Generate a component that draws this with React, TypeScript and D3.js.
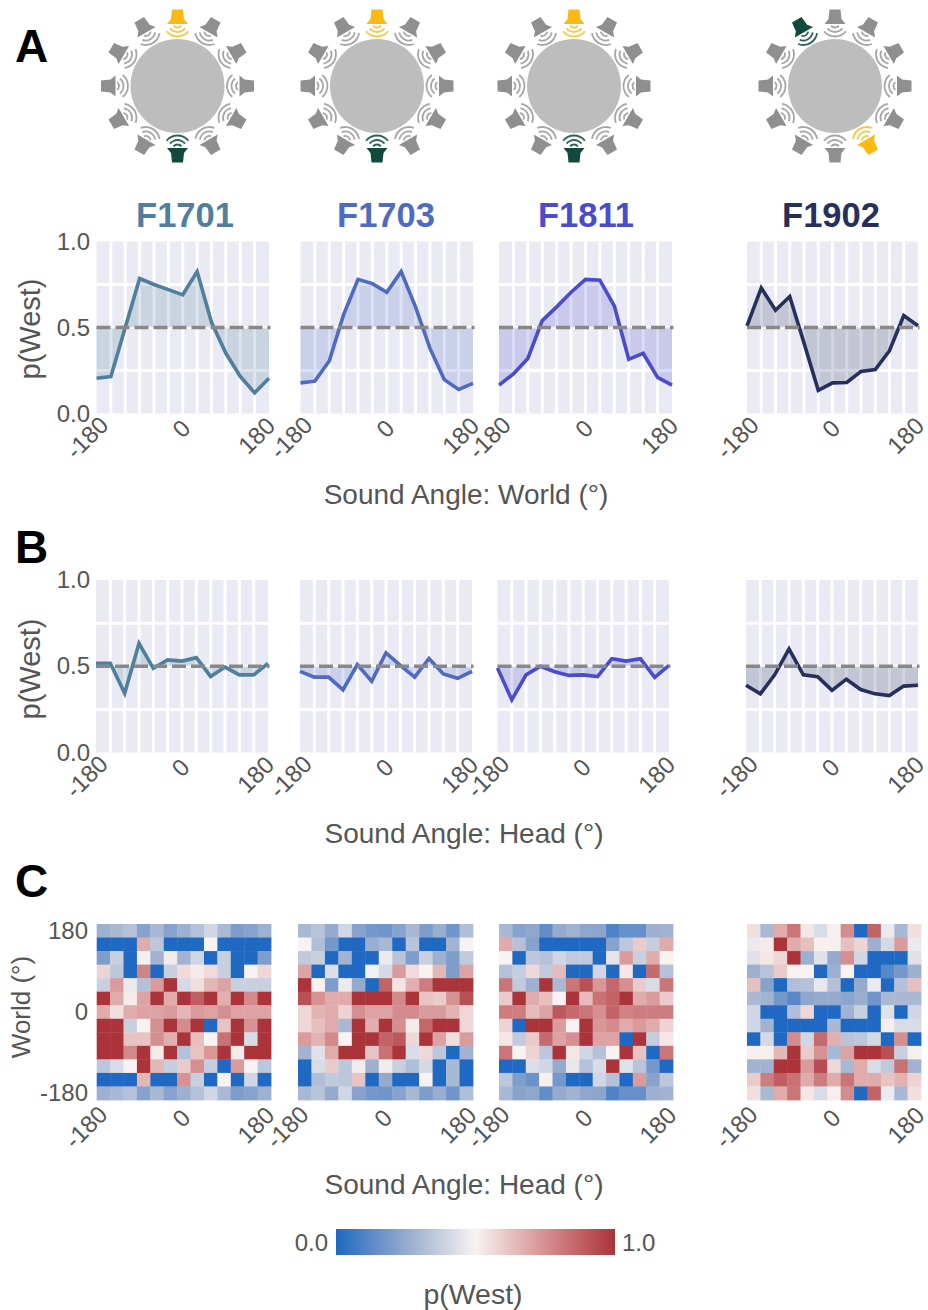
import React, { useEffect, useRef } from "react";
import * as d3 from "d3";

const FONT = "'Liberation Sans', Arial, sans-serif";
const TEXT = "#555555";

const subjects = ["F1701", "F1703", "F1811", "F1902"];
const subjectColors = ["#4f7f9c", "#4f6bc1", "#4a4ccb", "#27305c"];

// sound angle samples for the line panels
const angles = [-180, -150, -120, -90, -60, -30, 0, 30, 60, 90, 120, 150, 180];

// panel A, p(West) by world angle
const worldF1701 = [0.205, 0.215, 0.5, 0.785, 0.75, 0.72, 0.69, 0.825, 0.53, 0.35, 0.215, 0.12, 0.205];
const worldF1703 = [0.178, 0.188, 0.305, 0.575, 0.78, 0.755, 0.705, 0.825, 0.62, 0.38, 0.197, 0.14, 0.175];
const worldF1811 = [0.165, 0.23, 0.32, 0.54, 0.62, 0.705, 0.78, 0.775, 0.625, 0.315, 0.35, 0.21, 0.165];
const worldF1902 = [0.51, 0.73, 0.6, 0.68, 0.41, 0.135, 0.178, 0.18, 0.245, 0.255, 0.365, 0.57, 0.51];

// panel B, p(West) by head angle
const headF1701 = [0.517, 0.517, 0.343, 0.633, 0.488, 0.537, 0.53, 0.55, 0.44, 0.495, 0.45, 0.45, 0.517];
const headF1703 = [0.47, 0.437, 0.437, 0.363, 0.51, 0.413, 0.578, 0.505, 0.437, 0.545, 0.455, 0.43, 0.47];
const headF1811 = [0.49, 0.305, 0.45, 0.5, 0.468, 0.447, 0.45, 0.44, 0.544, 0.53, 0.544, 0.435, 0.505];
const headF1902 = [0.39, 0.34, 0.45, 0.6, 0.45, 0.44, 0.36, 0.425, 0.365, 0.34, 0.33, 0.385, 0.39];

// panel C, rows run from world 180 (top) to world -180 (bottom)
const gridF1701 = [
  [0.27, 0.3, 0.33, 0.22, 0.3, 0.22, 0.27, 0.33, 0.4, 0.3, 0.2, 0.22, 0.27],
  [0, 0, 0, 0.68, 0.35, 0, 0, 0, 0.5, 0, 0, 0, 0],
  [0.2, 0.38, 0, 0.49, 0.28, 0.52, 0.28, 0.4, 0, 0.38, 0, 0, 0.2],
  [0.58, 0.35, 0, 0.78, 0, 0.38, 0.56, 0.52, 0.56, 0.38, 0, 0.5, 0.57],
  [0.38, 0.72, 0.47, 0.33, 0.72, 1, 0.41, 0.55, 0.65, 0.7, 0.38, 0.38, 0.38],
  [1, 0.68, 0.52, 0.7, 1, 0.68, 1, 0.88, 1, 0.67, 1, 0.76, 1],
  [0.68, 0.55, 0.68, 0.7, 0.7, 0.72, 0.65, 0.72, 0.7, 0.75, 0.7, 0.7, 0.7],
  [1, 1, 0.38, 0.5, 0.75, 1, 0.76, 1, 0, 0.62, 1, 0.74, 1],
  [1, 1, 0.62, 0.62, 0.75, 0.67, 1, 0.63, 0.5, 0.83, 1, 0.42, 1],
  [1, 1, 0.77, 1, 0.52, 1, 0.33, 0.62, 0.73, 1, 0.52, 1, 1],
  [0.35, 0.42, 0.5, 1, 0.65, 0.37, 0.6, 0.75, 0.37, 0, 0.72, 0.5, 0.35],
  [0, 0, 0, 0.65, 0, 0, 0.74, 0.38, 0, 0.5, 0, 0.4, 0],
  [0.27, 0.3, 0.33, 0.22, 0.3, 0.22, 0.27, 0.33, 0.4, 0.3, 0.2, 0.22, 0.27],
];
const gridF1703 = [
  [0.3, 0.34, 0.25, 0.4, 0.22, 0.18, 0.17, 0.22, 0.3, 0.2, 0.26, 0.17, 0.32],
  [0.5, 0.32, 0.18, 0, 0, 0.26, 0.3, 0, 0.34, 0, 0, 0.28, 0.5],
  [0.36, 0.38, 0, 0.28, 0, 0, 0.47, 0.34, 0.2, 0.38, 0.27, 0.2, 0.36],
  [0.7, 0, 0.43, 0, 0, 0.49, 0.41, 0.72, 0.56, 0.5, 0.65, 0.2, 0.7],
  [1, 0.5, 0.2, 0.47, 0.25, 0, 0.87, 0.54, 0.67, 0.8, 1, 1, 1],
  [0.92, 0.74, 0.68, 0.68, 1, 1, 1, 0.77, 1, 0.62, 0.6, 0.74, 0.92],
  [0.57, 0.66, 0.68, 0.58, 0.75, 0.7, 0.7, 0.76, 0.76, 0.72, 0.72, 0.66, 0.57],
  [0.57, 0.63, 0.68, 0.3, 1, 0.67, 1, 0.75, 0.52, 0.86, 1, 1, 0.57],
  [0.72, 0.66, 0.77, 0.5, 1, 1, 0.87, 0.9, 0.57, 1, 0.7, 0.55, 0.72],
  [0.28, 0.44, 0.68, 1, 1, 0.62, 0.83, 1, 0.42, 0.57, 0.35, 0, 0.28],
  [0, 0.42, 0.6, 0.35, 0.52, 0.27, 0.48, 0.38, 0.32, 0.41, 0, 0.3, 0],
  [0, 0.32, 0.36, 0.35, 0.62, 0, 0.25, 0, 0, 0.5, 0, 0.3, 0],
  [0.3, 0.34, 0.25, 0.4, 0.22, 0.18, 0.17, 0.22, 0.3, 0.2, 0.26, 0.17, 0.32],
];
const gridF1811 = [
  [0.3, 0.22, 0.24, 0.14, 0.25, 0.28, 0.24, 0.23, 0.1, 0.15, 0.15, 0.27, 0.28],
  [0.68, 0.33, 0.22, 0, 0, 0, 0, 0, 0.22, 0.35, 0.6, 0.37, 0.68],
  [0.5, 0, 0.35, 0.33, 0.4, 0.36, 0.36, 0, 0.45, 0.72, 0.38, 0.68, 0.5],
  [0.33, 0.37, 0.57, 0.36, 0.64, 0, 0, 0.4, 0, 0.53, 0, 0.85, 0.33],
  [0.82, 0.36, 0.27, 1, 0.3, 0.82, 0.92, 0.73, 0.86, 0.75, 0.6, 0.42, 0.82],
  [0.6, 1, 0.68, 0.63, 0.5, 1, 0.64, 0.83, 0.87, 1, 0.68, 0.72, 0.6],
  [0.8, 0.8, 0.64, 0.7, 0.9, 0.85, 0.82, 0.75, 0.87, 0.78, 0.8, 0.8, 0.8],
  [0.58, 0, 1, 1, 0.72, 0.5, 1, 0.73, 0.76, 0.68, 0.72, 0.68, 0.58],
  [0.53, 0.36, 0.6, 0.85, 0.7, 0.75, 1, 0.7, 0.7, 0, 1, 0.37, 0.53],
  [0.82, 0.5, 0.58, 0.35, 1, 0.53, 0.4, 0.33, 0.5, 1, 0.62, 0, 0.82],
  [0, 0, 0.43, 0.4, 0.25, 0.46, 0.33, 0.42, 1, 0.44, 0.34, 0.18, 0],
  [0.35, 0.2, 0.16, 0.51, 0.18, 0, 0, 0.4, 0.33, 0, 0.72, 0.22, 0.35],
  [0.3, 0.22, 0.24, 0.14, 0.25, 0.28, 0.24, 0.23, 0.1, 0.15, 0.15, 0.27, 0.28],
];
const gridF1902 = [
  [0.55, 0.3, 0.68, 0.82, 0.53, 0.42, 0.51, 0.76, 0, 0.87, 0.47, 0.3, 0.55],
  [0.47, 0.52, 1, 0.68, 0.63, 0.51, 0.51, 0.63, 0.58, 0.27, 0.41, 0.72, 0.47],
  [0.44, 0.53, 0.57, 1, 0.27, 0.44, 0.25, 0.75, 0.4, 0, 0, 0, 0.44],
  [0.27, 0.34, 0.6, 0.5, 0.5, 0, 0.27, 0.5, 0, 0, 0.12, 0.18, 0.27],
  [0.63, 0.22, 0, 0.32, 0.33, 0.46, 0.33, 0, 0.25, 0.47, 0, 0.33, 0.63],
  [0.3, 0.28, 0.18, 0.12, 0.24, 0.25, 0.25, 0.23, 0.26, 0.17, 0.3, 0.3, 0.3],
  [0.4, 0, 0, 0.32, 0.57, 0, 0, 0.28, 0.38, 0, 0.44, 0, 0.4],
  [0.4, 0.28, 0, 0, 0, 0, 0.3, 0, 0, 0, 0.51, 0.42, 0.42],
  [0, 0.41, 0, 0.76, 0.4, 0.85, 0.67, 0.34, 0.35, 0.41, 0, 0.75, 0],
  [0.51, 0.51, 0.65, 1, 0.6, 0.74, 0.3, 0.7, 1, 1, 0.92, 0.38, 0.51],
  [0.28, 0.28, 1, 1, 0.72, 0.93, 0.57, 0.3, 0.68, 0.42, 0.36, 0.83, 0.28],
  [0.6, 0.8, 0.88, 0.83, 0.68, 0.8, 0.68, 0.82, 0.68, 0.68, 0.62, 0.66, 0.58],
  [0.55, 0.3, 0.68, 0.82, 0.53, 0.42, 0.51, 0.76, 0, 0.87, 0.47, 0.3, 0.55],
];

const worldSeries = [worldF1701, worldF1703, worldF1811, worldF1902];
const headSeries = [headF1701, headF1703, headF1811, headF1902];
const grids = [gridF1701, gridF1703, gridF1811, gridF1902];

// which speakers are lit in panel A, degrees clockwise from the top
const speakerAngles = d3.range(0, 360, 30);
const litYellow = [0, 0, 0, 150];
const litGreen = [180, 180, 180, 330];

const xTicks = [-180, 0, 180];
const yTicks = [0, 0.5, 1];
const worldTicks = ["180", "0", "-180"];

// layout
const rowA = { top: 241.5, bottom: 413.5, xs: [[96.5, 269], [300.5, 473], [499, 672], [747, 918]] };
const rowB = { top: 580, bottom: 752.5, xs: [[96, 268], [300, 472], [497.5, 669], [746, 918]] };
const rowC = { top: 924, bottom: 1100, xs: [[96.7, 271], [298, 473], [499, 673], [747, 921]] };
const iconX = [177.5, 377, 574, 835];
const titleX = [185, 386, 586, 831];

const colorStops = [0, 0.25, 0.5, 0.75, 1];
const colorValues = ["#1f69c3", "#95aacd", "#f8f3f2", "#d68f90", "#ab333a"];
const heat = d3.scaleLinear<string>().domain(colorStops).range(colorValues);

// horn shape of one speaker, pointing up from the ring
const hornShape: [number, number][] = [
  [-10.5, -62], [10.5, -62], [6.5, -67], [5.5, -76.5], [-5.5, -76.5], [-6.5, -67],
];
const waveRadii = [5, 9.5, 14];

function addText(g: any, x: number, y: number, str: string, size: number, opts: any = {}) {
  return g.append("text")
    .attr("x", x).attr("y", y)
    .attr("font-family", FONT).attr("font-size", size)
    .attr("fill", opts.fill ?? TEXT)
    .attr("font-weight", opts.weight ?? "normal")
    .attr("text-anchor", opts.anchor ?? "middle")
    .attr("transform", opts.rotate ? `rotate(${opts.rotate},${x},${y})` : null)
    .text(str);
}

// tilted tick labels sit off their ticks by a different amount per label
function tiltTicks(g: any, shift: [number, number][]) {
  g.selectAll(".domain").remove();
  g.selectAll("line").remove();
  g.selectAll("text")
    .attr("x", 0).attr("y", 0).attr("dy", "0.35em")
    .attr("text-anchor", "middle")
    .attr("font-family", FONT).attr("font-size", 24).attr("fill", TEXT)
    .attr("transform", (_: any, i: number) =>
      `translate(${shift[i][0]},${shift[i][1]}) rotate(-45)`);
}

function drawSpeakers(svg: any, cx: number, yellow: number, green: number) {
  const g = svg.append("g").attr("transform", `translate(${cx},86)`);
  g.append("circle").attr("r", 47).attr("fill", "#bdbdbd");
  const horn = d3.line().curve(d3.curveLinearClosed);
  speakerAngles.forEach((a) => {
    const fill = a === yellow ? "#fdb913" : a === green ? "#0f4a3c" : "#8f8f8f";
    const wave = a === yellow ? "#fdc544" : a === green ? "#2f6257" : "#a6a6a6";
    const s = g.append("g").attr("transform", `rotate(${a})`);
    s.append("path").attr("d", horn(hornShape)).attr("fill", fill);
    waveRadii.forEach((r) => {
      const arc = d3.arc()({
        innerRadius: r - 0.9,
        outerRadius: r + 0.9,
        startAngle: Math.PI - 0.9,
        endAngle: Math.PI + 0.9,
      } as any);
      s.append("path")
        .attr("transform", "translate(0,-63.5)")
        .attr("d", arc)
        .attr("fill", wave);
    });
  });
}

function drawLinePanel(svg: any, xr: number[], top: number, bottom: number, values: number[], color: string, first: boolean) {
  const x = d3.scaleLinear().domain([-180, 180]).range(xr);
  const y = d3.scaleLinear().domain([0, 1]).range([bottom, top]);
  const g = svg.append("g");

  g.append("rect")
    .attr("x", xr[0]).attr("y", top)
    .attr("width", xr[1] - xr[0]).attr("height", bottom - top)
    .attr("fill", "#e9eaf3");

  g.append("g").attr("stroke", "#fff").attr("stroke-width", 3)
    .selectAll("line").data(angles.slice(1, -1)).join("line")
    .attr("x1", (d: number) => x(d)).attr("x2", (d: number) => x(d))
    .attr("y1", top).attr("y2", bottom);
  g.append("g").attr("stroke", "#fff").attr("stroke-width", 3)
    .selectAll("line").data([0.25, 0.5, 0.75]).join("line")
    .attr("x1", xr[0]).attr("x2", xr[1])
    .attr("y1", (d: number) => y(d)).attr("y2", (d: number) => y(d));

  const area = d3.area<number>()
    .x((_, i) => x(angles[i]))
    .y0(y(0.5))
    .y1((d) => y(d));
  g.append("path").attr("d", area(values)).attr("fill", color).attr("fill-opacity", 0.2);

  const line = d3.line<number>().x((_, i) => x(angles[i])).y((d) => y(d));
  g.append("path").attr("d", line(values))
    .attr("fill", "none").attr("stroke", color).attr("stroke-width", 3.6);

  g.append("line")
    .attr("x1", xr[0]).attr("x2", xr[1] + 1.5)
    .attr("y1", y(0.5)).attr("y2", y(0.5))
    .attr("stroke", "#888888").attr("stroke-width", 3.4)
    .attr("stroke-dasharray", "14,5");

  g.append("g").attr("transform", `translate(0,${bottom})`)
    .call(d3.axisBottom(x).tickValues(xTicks).tickFormat((d: any) => String(d)))
    .call(tiltTicks, [[-10, 24], [-2, 15], [-13, 22]]);

  if (first) {
    const ax = g.append("g").attr("transform", `translate(90,0)`)
      .call(d3.axisLeft(y).tickValues(yTicks).tickFormat(d3.format(".1f") as any).tickSize(0).tickPadding(0));
    ax.selectAll(".domain").remove();
    ax.selectAll("text")
      .attr("font-family", FONT).attr("font-size", 24).attr("fill", TEXT);
  }
}

function drawHeat(svg: any, xr: number[], grid: number[][], first: boolean) {
  const idx = d3.range(13);
  const x = d3.scaleBand<number>().domain(idx).range(xr);
  const y = d3.scaleBand<number>().domain(idx).range([rowC.top, rowC.bottom]);
  const g = svg.append("g");

  grid.forEach((row, r) => {
    g.append("g").selectAll("rect").data(row).join("rect")
      .attr("x", (_: number, c: number) => x(c))
      .attr("y", y(r))
      .attr("width", x.bandwidth() + 0.4)
      .attr("height", y.bandwidth() + 0.4)
      .attr("fill", (d: number) => heat(d));
  });

  const tickScale = d3.scalePoint<number>().domain(xTicks).range([x(0)! + x.bandwidth() / 2, x(12)! + x.bandwidth() / 2]);
  g.append("g").attr("transform", `translate(0,${rowC.bottom})`)
    .call(d3.axisBottom(tickScale).tickFormat((d: any) => String(d)))
    .call(tiltTicks, [[-18, 27], [-3, 18], [-9, 25]]);

  if (first) {
    const ys = d3.scalePoint<string>().domain(worldTicks)
      .range([y(0)! + y.bandwidth() / 2, y(12)! + y.bandwidth() / 2]);
    const ax = g.append("g").attr("transform", "translate(88,0)")
      .call(d3.axisLeft(ys).tickSize(0).tickPadding(0));
    ax.selectAll(".domain").remove();
    ax.selectAll("text")
      .attr("font-family", FONT).attr("font-size", 24).attr("fill", TEXT);
  }
}

export default function App() {
  const svgRef = useRef<SVGSVGElement>(null);

  useEffect(() => {
    const svg = d3.select(svgRef.current);
    svg.selectAll("*").remove();

    // panel letters
    addText(svg, 15, 62, "A", 46, { weight: "bold", fill: "#000", anchor: "start" });
    addText(svg, 15, 563, "B", 46, { weight: "bold", fill: "#000", anchor: "start" });
    addText(svg, 15, 897, "C", 46, { weight: "bold", fill: "#000", anchor: "start" });

    subjects.forEach((name, i) => {
      drawSpeakers(svg, iconX[i], litYellow[i], litGreen[i]);
      addText(svg, titleX[i], 227, name, 34.5, { weight: "bold", fill: subjectColors[i] });
      drawLinePanel(svg, rowA.xs[i], rowA.top, rowA.bottom, worldSeries[i], subjectColors[i], i === 0);
      drawLinePanel(svg, rowB.xs[i], rowB.top, rowB.bottom, headSeries[i], subjectColors[i], i === 0);
      drawHeat(svg, rowC.xs[i], grids[i], i === 0);
    });

    addText(svg, 40, 329, "p(West)", 29, { rotate: -90 });
    addText(svg, 40, 669, "p(West)", 29, { rotate: -90 });
    addText(svg, 30, 1007, "World (°)", 26, { rotate: -90 });

    addText(svg, 466, 504, "Sound Angle: World (°)", 28);
    addText(svg, 464, 843, "Sound Angle: Head (°)", 28);
    addText(svg, 464, 1194, "Sound Angle: Head (°)", 28);

    // colour bar
    const bar = d3.scaleLinear().domain([0, 1]).range([336, 615]);
    const grad = svg.append("defs").append("linearGradient").attr("id", "pwest");
    colorStops.forEach((s, i) => {
      grad.append("stop").attr("offset", `${s * 100}%`).attr("stop-color", colorValues[i]);
    });
    svg.append("rect")
      .attr("x", bar(0)).attr("y", 1229)
      .attr("width", bar(1) - bar(0)).attr("height", 26)
      .attr("fill", "url(#pwest)");
    addText(svg, 328, 1251, "0.0", 24, { anchor: "end" });
    addText(svg, 622, 1251, "1.0", 24, { anchor: "start" });
    addText(svg, 473, 1304, "p(West)", 28.5);
  }, []);

  return (
    <svg
      ref={svgRef}
      width={928}
      height={1310}
      style={{ position: "absolute", left: 0, top: 0, display: "block" }}
    />
  );
}
